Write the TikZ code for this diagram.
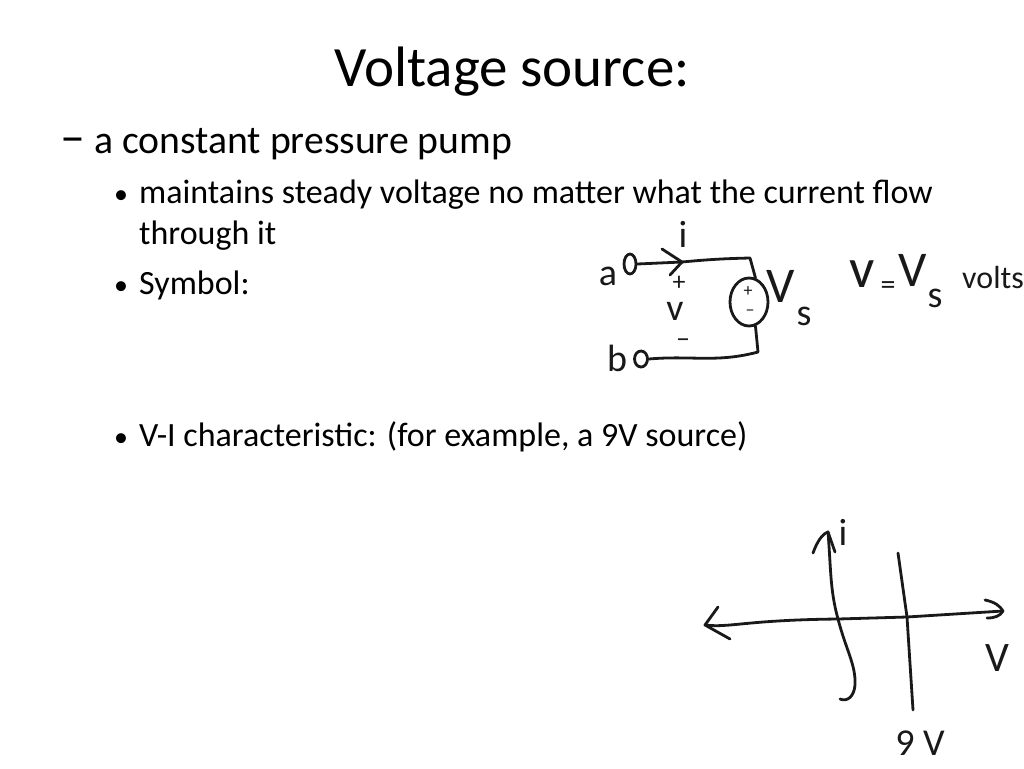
\documentclass[tikz,border=0pt]{standalone}
\usepackage{fontspec}
\setmainfont{Carlito}
\usetikzlibrary{shapes.geometric}
\tikzstyle{pen}=[line width=2.8pt, black!90, line cap=round, line join=round]
\tikzstyle{terminal}=[ellipse, draw, pen, minimum width=12pt, minimum height=20pt, inner sep=0pt]
\tikzstyle{sourcebody}=[ellipse, draw, pen, minimum width=38pt, minimum height=48pt, inner sep=0pt]
\tikzstyle{title}=[anchor=base, inner sep=0pt, font=\fontsize{57}{66}\selectfont]
\tikzstyle{first}=[anchor=base west, inner sep=0pt, font=\fontsize{39.7}{46}\selectfont]
\tikzstyle{second}=[anchor=base west, inner sep=0pt, font=\fontsize{34}{40}\selectfont]
\tikzstyle{bulletmark}=[anchor=base west, inner sep=0pt, font=\fontsize{28}{32}\selectfont]
\tikzstyle{hand}=[inner sep=0pt, black!90, font=\fontsize{38}{44}\selectfont]
\tikzstyle{bighand}=[hand, font=\fontsize{50}{58}\selectfont]
\tikzstyle{smallhand}=[hand, font=\fontsize{18}{20}\selectfont]
\begin{document}
\begin{tikzpicture}[x=1pt, y=-1pt]
    \useasboundingbox (0,0) rectangle (1024,768);
    \node[title] (heading) at (512,86) {Voltage source:};
    \node[first, font=\fontsize{50}{56}\selectfont] (dash) at (60,153) {–};
    \node[first] (pump) at (94,153) {a constant pressure pump};
    \node[bulletmark] (bulletone) at (114,203) {•};
    \node[second] (steady) at (139,203) {maintains steady voltage no matter what the current flow};
    \node[second] (through) at (139,244) {through it};
    \node[bulletmark] (bullettwo) at (114,294) {•};
    \node[second] (symbol) at (139,294) {Symbol:};
    \node[bulletmark] (bulletthree) at (114,446) {•};
    \node[second] (charac) at (139,446) {V-I characteristic: (for example, a 9V source)};

    \node[terminal] (terma) at (630,264) {};
    \node[terminal, minimum width=13pt, minimum height=16pt] (termb) at (641,359) {};
    \node[sourcebody] (source) at (749,302) {};
    \coordinate (topcorner) at (750,258);
    \coordinate (botcorner) at (758,352);
    \coordinate (arrowtip) at (682,262);
    \draw[pen] (terma.east)--(arrowtip) to[bend left=2] (topcorner)--(source.75);
    \draw[pen] (source.-75)--(botcorner) to[out=195, in=5] (termb.east);
    \draw[pen] (662,249)--(arrowtip)--(670,275);
    \node[hand] (laba) at (608,276) {a};
    \node[hand] (labb) at (617,358) {b};
    \node[hand] (labi) at (683,234) {i};
    \node[hand, font=\fontsize{26}{28}\selectfont] (labplus) at (679,283) {+};
    \node[hand] (labv) at (675,311) {v};
    \node[hand, font=\fontsize{28}{30}\selectfont] (labminus) at (683,343) {–};
    \node[smallhand] (srcplus) at (748,292) {+};
    \node[smallhand] (srcminus) at (750,313) {–};
    \node[bighand] (labvs) at (781,286) {V};
    \node[hand] (labvss) at (804,316) {s};
    \node[bighand, font=\fontsize{56}{60}\selectfont] (eqv) at (862,274) {v};
    \node[hand, font=\fontsize{30}{32}\selectfont] (eqsign) at (888,288) {=};
    \node[bighand] (eqvs) at (913,270) {V};
    \node[hand] (eqs) at (935,298) {s};
    \node[hand, anchor=west, font=\fontsize{32}{36}\selectfont] (volts) at (962,278) {volts};

    \coordinate (axisleft) at (705,625);
    \coordinate (axisright) at (1003,611);
    \coordinate (origin) at (838,619);
    \coordinate (nineline) at (907,617);
    \coordinate (itop) at (828,532);
    \coordinate (ibot) at (840,699);
    \coordinate (ninetop) at (898,553);
    \coordinate (ninebot) at (913,710);
    \draw[pen] (axisleft) .. controls (730,628) and (745,620) .. (origin) -- (nineline) -- (axisright);
    \draw[pen] (718,607)--(axisleft)--(730,639);
    \draw[pen] (985,600) .. controls (995,602) and (1000,606) .. (axisright) .. controls (1000,616) and (995,618) .. (987,618);
    \draw[pen] (itop) .. controls (831,570) and (830,590) .. (origin) .. controls (846,650) and (856,665) .. (855,685) .. controls (854,697) and (847,702) .. (ibot);
    \draw[pen] (813,553) .. controls (817,542) and (822,534) .. (itop)--(835,552);
    \draw[pen] (ninetop)--(nineline)--(ninebot);
    \node[hand] (labgi) at (843,532) {i};
    \node[hand, font=\fontsize{42}{48}\selectfont] (labgv) at (997,658) {V};
    \node[hand] (labnine) at (920,743) {9 V};
  \end{tikzpicture}
\end{document}
